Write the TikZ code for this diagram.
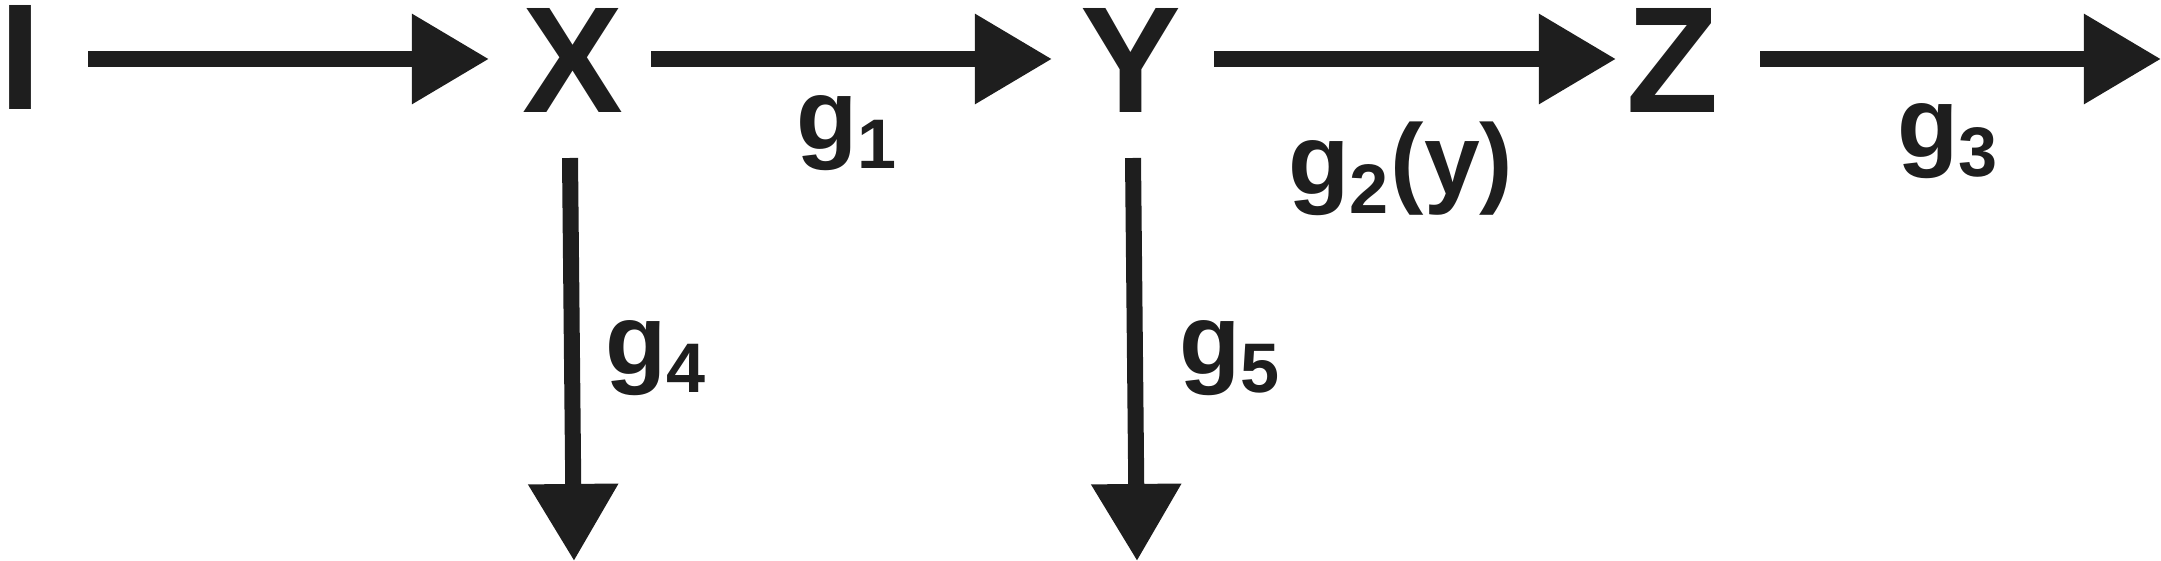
\documentclass[tikz,border=0pt]{standalone}
\usepackage{fontspec}
\setmainfont{Liberation Sans}
\usetikzlibrary{arrows.meta}
\definecolor{ink}{HTML}{1E1E1E}
\begin{document}
\begin{tikzpicture}[x=0.01cm,y=-0.01cm,
  big/.style={font=\bfseries\fontsize{43}{45}\selectfont,inner sep=0,anchor=base,text=ink},
  lab/.style={font=\bfseries\fontsize{28.5}{30}\selectfont,inner sep=0,anchor=base west,text=ink},
  arr/.style={line width=0.16cm,draw=ink,-{Triangle[length=0.77cm,width=0.86cm]}}]
\useasboundingbox (0,0) rectangle (2161,561);
\node[big] (I) at (21,110) {I};
\node[big] (X) at (573,113) {X};
\node[big] (Y) at (1131,113) {Y};
\node[big] (Z) at (1673,113) {Z};
\coordinate (a1) at (88,59); \coordinate (b1) at (489,59);
\coordinate (a2) at (651,59); \coordinate (b2) at (1052,59);
\coordinate (a3) at (1214,59); \coordinate (b3) at (1616,59);
\coordinate (a4) at (1760,59); \coordinate (b4) at (2161,59);
\coordinate (v1) at (570,158); \coordinate (w1) at (574,561);
\coordinate (v2) at (1133,158); \coordinate (w2) at (1137,561);
\draw[arr] (a1) -- (b1);
\draw[arr] (a2) -- (b2);
\draw[arr] (a3) -- (b3);
\draw[arr] (a4) -- (b4);
\draw[arr] (v1) -- (w1);
\draw[arr] (v2) -- (w2);
\node[lab] (g1) at (796,150) {g\textsubscript{1}};
\node[lab] (g2) at (1288,195) {g\textsubscript{2}(y)};
\node[lab] (g3) at (1897,158) {g\textsubscript{3}};
\node[lab] (g4) at (605,374) {g\textsubscript{4}};
\node[lab] (g5) at (1179,374) {g\textsubscript{5}};
\end{tikzpicture}
\end{document}
